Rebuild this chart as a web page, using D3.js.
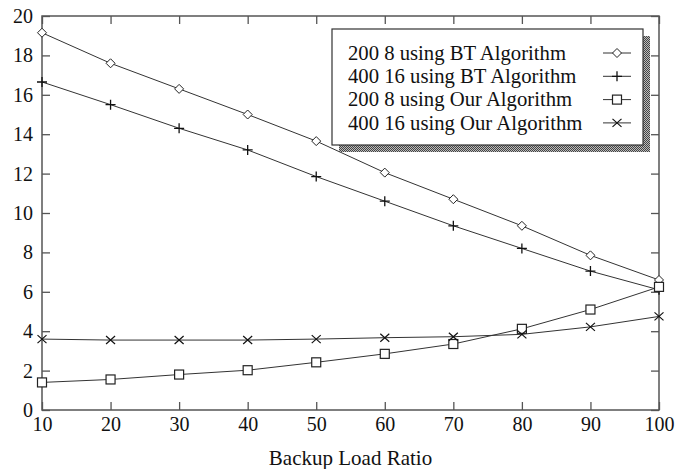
<!DOCTYPE html>
<html>
<head>
<meta charset="utf-8">
<script src="https://cdn.jsdelivr.net/npm/d3@7"></script>
<style>
  body { margin: 0; background: #fff; }
  text { font-family: "Liberation Serif", "Times New Roman", serif; fill: #111; }
</style>
</head>
<body>
<div id="chart"></div>
<script>
// data
const ratios = [10, 20, 30, 40, 50, 60, 70, 80, 90, 100];
const bt200 = [19.15, 17.6, 16.3, 15.0, 13.65, 12.05, 10.7, 9.35, 7.85, 6.6];
const bt400 = [16.65, 15.5, 14.3, 13.2, 11.85, 10.6, 9.35, 8.2, 7.05, 6.1];
const our200 = [1.4, 1.55, 1.8, 2.02, 2.42, 2.85, 3.35, 4.12, 5.1, 6.25];
const our400 = [3.6, 3.55, 3.55, 3.55, 3.6, 3.67, 3.72, 3.84, 4.22, 4.75];
const seriesNames = ["200 8 using BT Algorithm", "400 16 using BT Algorithm",
                     "200 8 using Our Algorithm", "400 16 using Our Algorithm"];
const yTicks = [0, 2, 4, 6, 8, 10, 12, 14, 16, 18, 20];

const width = 688, height = 469;
const margin = {left: 42, right: 29, top: 16, bottom: 59};
const innerW = width - margin.left - margin.right,
      innerH = height - margin.top - margin.bottom;

const svg = d3.select("#chart").append("svg")
    .attr("width", width)
    .attr("height", height);

const g = svg.append("g")
    .attr("transform", "translate(" + margin.left + "," + margin.top + ")");

const x = d3.scaleLinear().domain([10, 100]).range([0, innerW]);
const y = d3.scaleLinear().domain([0, 20]).range([innerH, 0]);

const axisColor = "#555";
const tickLen = 8;

// frame
g.append("rect")
    .attr("width", innerW).attr("height", innerH)
    .attr("fill", "none").attr("stroke", axisColor).attr("stroke-width", 1.5);

// x ticks (inward, bottom and top)
g.append("g").attr("transform", "translate(0," + innerH + ")")
    .call(d3.axisBottom(x).tickValues(ratios).tickSize(-tickLen).tickPadding(tickLen - 1).tickSizeOuter(0));
g.append("g")
    .call(d3.axisTop(x).tickValues(ratios).tickSize(-tickLen).tickFormat("").tickSizeOuter(0));

// y ticks (inward, left and right)
g.append("g")
    .call(d3.axisLeft(y).tickValues(yTicks).tickSize(-tickLen).tickPadding(tickLen + 1).tickSizeOuter(0));
g.append("g").attr("transform", "translate(" + innerW + ",0)")
    .call(d3.axisRight(y).tickValues(yTicks).tickSize(-tickLen).tickFormat("").tickSizeOuter(0));

g.selectAll(".domain").remove();
g.selectAll(".tick line").attr("stroke", axisColor).attr("stroke-width", 1.3);
g.selectAll(".tick text").style("font-size", "20px").attr("fill", "#111");

// axis title
svg.append("text")
    .attr("x", margin.left + innerW / 2)
    .attr("y", 465)
    .attr("text-anchor", "middle")
    .style("font-size", "21px")
    .text("Backup Load Ratio");

// markers
function drawMarker(sel, type) {
  if (type === "diamond") {
    sel.append("path").attr("d", "M0,-4.5L4.5,0L0,4.5L-4.5,0Z")
      .attr("fill", "#fff").attr("stroke", "#222").attr("stroke-width", 1);
  } else if (type === "plus") {
    sel.append("path").attr("d", "M-5,0H5M0,-5V5")
      .attr("stroke", "#111").attr("stroke-width", 1.3);
  } else if (type === "square") {
    sel.append("rect").attr("x", -4.5).attr("y", -4.5).attr("width", 9).attr("height", 9)
      .attr("fill", "#fff").attr("stroke", "#222").attr("stroke-width", 1.2);
  } else {
    sel.append("path").attr("d", "M-4.5,-4L4.5,4M-4.5,4L4.5,-4")
      .attr("stroke", "#111").attr("stroke-width", 1.2);
  }
}

const series = [
  {name: seriesNames[0], values: bt200, marker: "diamond"},
  {name: seriesNames[1], values: bt400, marker: "plus"},
  {name: seriesNames[2], values: our200, marker: "square"},
  {name: seriesNames[3], values: our400, marker: "cross"}
];

const line = d3.line().x((d, i) => x(ratios[i])).y(d => y(d));

series.forEach(s => {
  g.append("path")
      .datum(s.values)
      .attr("fill", "none")
      .attr("stroke", "#333")
      .attr("stroke-width", 1)
      .attr("d", line);
});
series.forEach(s => {
  g.append("g").selectAll("g")
      .data(s.values)
      .enter().append("g")
      .attr("transform", (d, i) => "translate(" + x(ratios[i]) + "," + y(d) + ")")
      .each(function () { drawMarker(d3.select(this), s.marker); });
});

// legend with shadow
const defs = svg.append("defs");
const pat = defs.append("pattern").attr("id", "dots")
    .attr("width", 2).attr("height", 2).attr("patternUnits", "userSpaceOnUse");
pat.append("rect").attr("width", 2).attr("height", 2).attr("fill", "#bbb");
pat.append("rect").attr("width", 1).attr("height", 1).attr("fill", "#444");
pat.append("rect").attr("x", 1).attr("y", 1).attr("width", 1).attr("height", 1).attr("fill", "#444");

const lx = 332, ly = 29, lw = 311, lh = 116, sh = 7;
svg.append("rect").attr("x", lx + sh).attr("y", ly + sh).attr("width", lw).attr("height", lh)
    .attr("fill", "url(#dots)");
svg.append("rect").attr("x", lx).attr("y", ly).attr("width", lw).attr("height", lh)
    .attr("fill", "#fff").attr("stroke", "#333").attr("stroke-width", 1.2);

const legend = svg.append("g").selectAll("g")
    .data(series)
    .enter().append("g")
    .attr("transform", (d, i) => "translate(0," + (ly + 24 + i * 23.3) + ")");
legend.append("text")
    .attr("x", lx + 16)
    .attr("dy", "0.33em")
    .style("font-size", "20.7px")
    .text(d => d.name);
legend.append("line")
    .attr("x1", 603).attr("x2", 631)
    .attr("stroke", "#333").attr("stroke-width", 1);
legend.append("g")
    .attr("transform", "translate(617,0)")
    .each(function (d) { drawMarker(d3.select(this), d.marker); });
</script>
</body>
</html>
